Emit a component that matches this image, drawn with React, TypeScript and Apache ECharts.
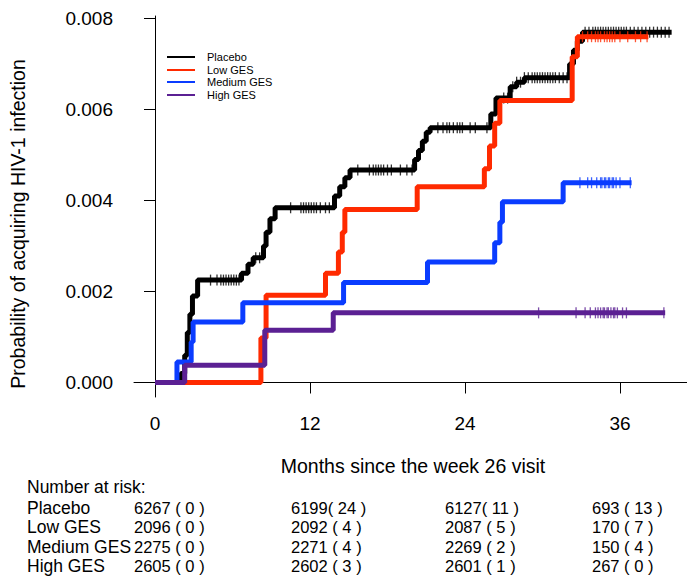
import React, { useEffect, useRef } from "react";
import * as echarts from "echarts";

// ---- data (months since week 26 visit, cumulative probability) ----
const seriesNames = ["Placebo", "Low GES", "Medium GES", "High GES"];
const seriesColors = ["#000000", "#ff2a00", "#0a3cff", "#5b2093"];

const placeboT = [0, 2.0, 2.3, 2.5, 2.7, 2.9, 3.3, 6.7, 7.2, 7.6, 8.4, 8.6, 8.9, 9.3, 13.9, 14.3, 14.7, 15.1, 20.1, 20.4, 20.7, 21.0, 21.3, 26.0, 26.4, 27.5, 28.0, 28.6, 32.1, 32.4, 32.7, 33.1, 40.0];
const placeboV = [0, 0.0002, 0.0006, 0.0011, 0.0015, 0.0019, 0.00225, 0.0024, 0.0026, 0.00274, 0.003, 0.0033, 0.0036, 0.00384, 0.0041, 0.0043, 0.0045, 0.00467, 0.0049, 0.0051, 0.0053, 0.0055, 0.0056, 0.0059, 0.00625, 0.0065, 0.0066, 0.0067, 0.007, 0.0073, 0.0075, 0.0077, 0.0077];

const lowT = [0, 8.2, 8.6, 13.2, 14.2, 14.5, 14.7, 20.3, 25.5, 25.9, 26.3, 26.7, 32.3, 32.7, 38.2];
const lowV = [0, 0.00098, 0.00192, 0.0024, 0.00287, 0.0033, 0.0038, 0.0043, 0.0047, 0.0052, 0.0057, 0.0062, 0.00716, 0.0076, 0.0076];

const medT = [0, 1.7, 2.8, 2.95, 6.8, 14.6, 21.1, 26.3, 26.7, 26.9, 31.6, 36.9];
const medV = [0, 0.00045, 0.00089, 0.00133, 0.00175, 0.0022, 0.00265, 0.00307, 0.00352, 0.00397, 0.00439, 0.00439];

const highT = [0, 2.3, 8.5, 13.8, 39.5];
const highV = [0, 0.00038, 0.00115, 0.00153, 0.00153];

// censoring times (months)
const placeboCens = [4.3, 4.8, 5.1, 5.3, 5.5, 5.7, 5.9, 6.1, 6.3, 6.5, 7.8, 8.1, 10.5, 11.3, 11.5, 11.7, 11.9, 12.1, 12.3, 12.5, 12.8, 13.2, 13.5, 15.7, 16.6, 16.9, 17.1, 17.3, 17.5, 17.7, 18.0, 18.3, 19.0, 19.5, 19.9, 21.9, 22.3, 22.6, 22.8, 23.1, 23.4, 23.6, 23.8, 24.4, 24.8, 25.7, 27.0, 27.3, 27.7, 28.0, 28.3, 28.6, 28.9, 29.2, 29.4, 29.6, 29.8, 30.0, 30.2, 30.4, 30.6, 30.8, 31.0, 31.3, 31.6, 31.9, 32.3, 32.6, 33.3, 33.6, 33.9, 34.1, 34.3, 34.5, 34.7, 34.9, 35.1, 35.3, 35.5, 35.7, 35.9, 36.1, 36.3, 36.5, 36.8, 37.1, 37.4, 37.7, 38.0, 38.3, 38.6, 38.9, 39.2, 39.5, 39.8];
const lowCens = [33.1, 33.5, 33.8, 34.1, 34.3, 34.5, 34.8, 35.0, 35.2, 35.4, 35.6, 36.0, 36.6, 37.2, 37.6, 38.1];
const medCens = [32.9, 33.5, 33.8, 34.2, 34.5, 34.6, 34.8, 34.9, 35.1, 35.2, 35.4, 35.5, 35.7, 36.0, 36.8];
const highCens = [29.7, 32.6, 33.3, 33.7, 34.1, 34.3, 34.5, 34.7, 34.8, 35.0, 35.1, 35.3, 35.5, 35.6, 35.8, 36.2, 36.5, 39.4];

const xTicks = [0, 12, 24, 36];
const yTicks = [0, 0.002, 0.004, 0.006, 0.008];

// number at risk table
const riskCounts = [
  [6267, 6199, 6127, 693],
  [2096, 2092, 2087, 170],
  [2275, 2271, 2269, 150],
  [2605, 2602, 2601, 267],
];
const riskEvents = [
  [0, 24, 11, 13],
  [0, 4, 5, 7],
  [0, 4, 2, 4],
  [0, 3, 1, 0],
];

const FONT = "'Liberation Sans', Arial, Helvetica, sans-serif";

function valueAt(t: number, times: number[], vals: number[]) {
  let v = vals[0];
  for (let i = 0; i < times.length; i++) if (times[i] <= t) v = vals[i];
  return v;
}

export default function App() {
  const ref = useRef<HTMLDivElement>(null);
  useEffect(() => {
    if (!ref.current) return;
    const chart = echarts.init(ref.current, undefined, { renderer: "svg" });
    const allT = [placeboT, lowT, medT, highT];
    const allV = [placeboV, lowV, medV, highV];
    const allC = [placeboCens, lowCens, medCens, highCens];

    const lineSeries: any[] = allT.map((ts, k) => ({
      type: "line",
      name: seriesNames[k],
      step: "end",
      showSymbol: false,
      symbol: "none",
      lineStyle: { color: seriesColors[k], width: 5 },
      data: ts.map((t, i) => [t, allV[k][i]]),
      z: 2 + k,
    }));
    const censSeries: any[] = allC.map((cs, k) => ({
      type: "scatter",
      name: seriesNames[k] + " censored",
      symbol: "rect",
      symbolSize: [1.3, 11],
      itemStyle: { color: seriesColors[k] },
      data: cs.map((t) => [t, valueAt(t, allT[k], allV[k])]),
      z: 2 + k,
    }));

    const graphics: any[] = [];
    // legend
    const legendY = [57, 70, 82, 95];
    seriesNames.forEach((n, k) => {
      graphics.push({
        type: "line",
        shape: { x1: 167, y1: legendY[k], x2: 195, y2: legendY[k] },
        style: { stroke: seriesColors[k], lineWidth: 2 },
      });
      graphics.push({
        type: "text",
        x: 207,
        y: legendY[k],
        style: { text: n, font: `11px ${FONT}`, fill: "#000", align: "left", verticalAlign: "middle" },
      });
    });
    // axis titles
    graphics.push({
      type: "text",
      x: 18,
      y: 224,
      rotation: Math.PI / 2,
      style: { text: "Probability of acquiring HIV-1 infection", font: `19.5px ${FONT}`, fill: "#000", align: "center", verticalAlign: "middle" },
    });
    graphics.push({
      type: "text",
      x: 413,
      y: 466,
      style: { text: "Months since the week 26 visit", font: `19.5px ${FONT}`, fill: "#000", align: "center", verticalAlign: "middle" },
    });
    // number at risk
    graphics.push({
      type: "text",
      x: 27,
      y: 487,
      style: { text: "Number at risk:", font: `17.5px ${FONT}`, fill: "#000", align: "left", verticalAlign: "middle" },
    });
    const rowY = [508, 527, 547, 566];
    const colX = [134, 291, 445, 592];
    seriesNames.forEach((n, r) => {
      graphics.push({
        type: "text",
        x: 27,
        y: rowY[r],
        style: { text: n, font: `17.5px ${FONT}`, fill: "#000", align: "left", verticalAlign: "middle" },
      });
      riskCounts[r].forEach((c, j) => {
        const e = riskEvents[r][j];
        const tight = e >= 10 && j < 3;
        const txt = `${c}${tight ? "" : " "}( ${e} )`;
        graphics.push({
          type: "text",
          x: colX[j],
          y: rowY[r],
          style: { text: txt, font: `16.5px ${FONT}`, fill: "#000", align: "left", verticalAlign: "middle" },
        });
      });
    });

    chart.setOption({
      animation: false,
      backgroundColor: "#ffffff",
      grid: { left: 134, right: 0, top: 16, bottom: 180 },
      xAxis: {
        type: "value",
        min: -1.626,
        max: 41.19,
        axisLine: { show: true, lineStyle: { color: "#000", width: 1 } },
        axisTick: { show: true, customValues: xTicks, length: 11, lineStyle: { color: "#000" } },
        axisLabel: { customValues: xTicks, margin: 17, fontSize: 19, fontFamily: FONT, color: "#000" },
        splitLine: { show: false },
      },
      yAxis: {
        type: "value",
        min: -0.000319,
        max: 0.008055,
        axisLine: { show: true, lineStyle: { color: "#000", width: 1 } },
        axisTick: { show: true, customValues: yTicks, length: 11, lineStyle: { color: "#000" } },
        axisLabel: {
          customValues: yTicks,
          margin: 21,
          fontSize: 19,
          fontFamily: FONT,
          color: "#000",
          formatter: (v: number) => v.toFixed(3),
        },
        splitLine: { show: false },
      },
      series: [...lineSeries, ...censSeries],
      graphic: graphics,
    });
    return () => chart.dispose();
  }, []);
  return <div ref={ref} style={{ position: "fixed", left: 0, top: 0, width: 687, height: 577 }} />;
}
